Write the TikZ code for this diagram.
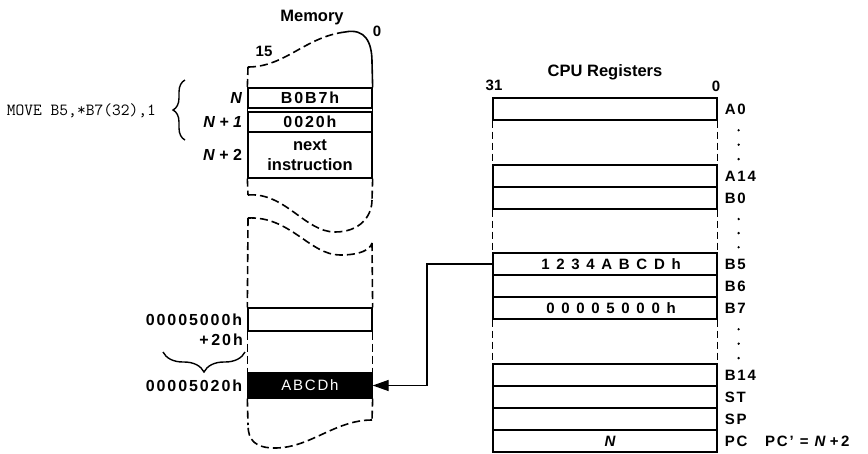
\documentclass[tikz,border=0pt]{standalone}
\usepackage{fontspec}
\setmainfont{Liberation Sans}
\newfontfamily\trackFont{Liberation Sans}[LetterSpace=12]
\usetikzlibrary{positioning,arrows.meta,calc,decorations.pathreplacing}

\begin{document}
\begin{tikzpicture}[x=1pt, y=-1pt,
    regBox/.style={rectangle, draw, line width=1.3pt, minimum width=224pt, minimum height=22pt, inner sep=0pt, font=\trackFont\bfseries\fontsize{15}{17}\selectfont},
    regLabel/.style={font=\trackFont\bfseries\fontsize{15}{17}\selectfont, inner sep=0pt, label distance=7pt},
    memBox/.style={rectangle, draw, line width=1.3pt, minimum width=124pt, inner sep=0pt, font=\trackFont\bfseries\fontsize{16}{18}\selectfont},
    memLabel/.style={font=\bfseries\fontsize{16}{18}\selectfont, inner sep=0pt, label distance=5pt},
    addrText/.style={font=\trackFont\bfseries\fontsize{16}{18}\selectfont, inner sep=0pt},
    titleText/.style={font=\bfseries\fontsize{16.5}{18}\selectfont, inner sep=0pt},
    moveText/.style={font=\ttfamily\fontsize{17}{20}\selectfont, inner sep=0pt},
    memEdge/.style={line width=1.6pt},
    memDash/.style={memEdge, dash pattern=on 8pt off 4pt},
    gapLine/.style={line width=1.6pt, dash pattern=on 7pt off 4pt},
    braceLine/.style={line width=1.4pt, decorate},
    arrowStyle/.style={-{Triangle[length=16pt,width=11pt]}, line width=1.2pt}
]
    \useasboundingbox (0,0) rectangle (868,453);

    % memory
    \node[titleText] (memTitle) at (312,18) {Memory};
    \node[titleText, font=\bfseries\fontsize{15}{17}\selectfont] (memMsb) at (264,51) {15};
    \node[titleText, font=\bfseries\fontsize{15}{17}\selectfont] (memLsb) at (377,31) {0};

    \node[memBox, minimum height=20pt, label={[memLabel]left:\textit{N}}] (memN) at (310,98) {B0B7h};
    \node[memBox, minimum height=20pt, label={[memLabel]left:\textit{N + 1}}] (memN1) at (310,122) {0020h};
    \node[memBox, minimum height=46pt, align=center, font=\bfseries\fontsize{16.5}{20}\selectfont,
          label={[memLabel]left:\textit{N} + 2}] (memNext) at (310,155) {next\\instruction};
    \node[memBox, minimum height=23pt, label={[addrText, label distance=5pt]left:00005000h}] (mem5000) at (310,319.5) {};
    \node[memBox, minimum height=25pt, fill=black, text=white, font=\trackFont\fontsize{15}{17}\selectfont,
          label={[addrText, label distance=5pt]left:00005020h}] (memABCD) at (310,385.5) {ABCDh};
    \node[addrText, anchor=east] (plusOff) at (243,340) {+\,20h};

    \coordinate (topL) at (248,67);
    \coordinate (topPeak) at (345,32);
    \coordinate (topR) at (372,62);
    \draw[memDash] (topL) .. controls (285,67) and (305,37) .. (topPeak);
    \draw[memEdge] (topPeak) .. controls (365,28) and (372,42) .. (topR);
    \draw[memDash] (topL) -- (memN.north west);
    \draw[memEdge] (topR) -- (memN.north east);
    \draw[memEdge] (memN.south west) -- (memN1.north west);
    \draw[memEdge] (memN.south east) -- (memN1.north east);

    \coordinate (brkAL) at (248,195);
    \coordinate (brkAR) at (372,200);
    \draw[memDash] (memNext.south west) -- (brkAL);
    \draw[memDash] (memNext.south east) -- (brkAR);
    \draw[memDash] (brkAL) .. controls (285,192) and (305,232) .. (335,232) .. controls (360,232) and (372,216) .. (brkAR);

    \coordinate (brkBL) at (248,218);
    \coordinate (brkBR) at (372,243);
    \draw[memDash] (brkBL) .. controls (290,216) and (310,255) .. (340,255) .. controls (360,255) and (370,250) .. (brkBR);
    \draw[memDash] (brkBL) -- (mem5000.north west);
    \draw[memDash] (brkBR) -- (mem5000.north east);
    \draw[memDash] (mem5000.south west) -- (memABCD.north west);
    \draw[memDash] (mem5000.south east) -- (memABCD.north east);

    \coordinate (botL) at (248,425);
    \coordinate (botR) at (372,420);
    \draw[memDash] (memABCD.south west) -- (botL);
    \draw[memDash] (memABCD.south east) -- (botR);
    \draw[memDash] (botR) .. controls (335,420) and (310,448) .. (275,448) .. controls (255,448) and (248,440) .. (botL);

    \node[moveText, anchor=east] (moveInstr) at (156,111) {MOVE B5,*B7(32),1};
    \draw[braceLine, decoration={brace, amplitude=12pt}] (185,140) -- (185,80);
    \draw[braceLine, decoration={brace, amplitude=20pt}] (245,352) -- (163,352);

    % CPU registers
    \node[titleText] (cpuTitle) at (605,72) {CPU Registers};
    \node[titleText, font=\bfseries\fontsize{15}{17}\selectfont] (cpuMsb) at (494,85) {31};
    \node[titleText, font=\bfseries\fontsize{15}{17}\selectfont] (cpuLsb) at (716,86) {0};

    \foreach \reg/\y/\val in {A0/109/{}, A14/176/{}, B0/198/{}, B5/264/1 2 3 4 A B C D h, B6/286/{},
                              B7/308/0 0 0 0 5 0 0 0 h, B14/375/{}, ST/397/{}, SP/419/{}, PC/441/\textit{N}}
        \node[regBox, label={[regLabel]right:\reg}] (\reg) at (605,\y) {\spaceskip 6.7pt\relax\hspace*{12pt}\val};

    \foreach \a/\b in {A0/A14, B0/B5, B7/B14} {
        \draw[gapLine] (\a.south west) -- (\b.north west);
        \draw[gapLine] (\a.south east) -- (\b.north east);
        \foreach \p in {0.22,0.55,0.88}
            \fill ($(\a.south east)!\p!(\b.north east) + (21,0)$) circle (1.3pt);
    }

    \node[regLabel, anchor=west] (pcNext) at (765,441) {PC’ = \textit{N}\,+\,2};

    \coordinate (bend) at (427,264);
    \draw[arrowStyle] (B5.west) -- (bend) |- (memABCD.east);
\end{tikzpicture}
\end{document}
